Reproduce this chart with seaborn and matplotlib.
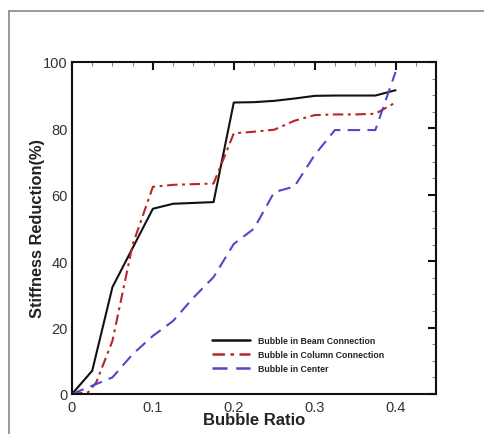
import numpy as np
import pandas as pd
import seaborn as sns
import matplotlib
matplotlib.use("Agg")
import matplotlib.pyplot as plt
from matplotlib.ticker import MultipleLocator
from matplotlib.lines import Line2D

sns.set_theme(style="white")
plt.rcParams['font.family'] = ['Liberation Sans', 'DejaVu Sans']

beam_x = [0.0, 0.025, 0.05, 0.075, 0.1, 0.125, 0.175, 0.2, 0.225, 0.25, 0.275, 0.3, 0.325, 0.35, 0.375, 0.4]
beam_y = [0.0, 7.0, 32.2, 44.0, 55.8, 57.3, 57.8, 87.8, 87.9, 88.3, 89.0, 89.8, 89.9, 89.9, 89.9, 91.5]

col_x = [0.0, 0.02, 0.03, 0.05, 0.075, 0.1, 0.125, 0.175, 0.2, 0.225, 0.25, 0.275, 0.3, 0.325, 0.35, 0.375, 0.4]
col_y = [0.0, 0.5, 3.5, 16.0, 45.0, 62.4, 63.0, 63.4, 78.5, 79.0, 79.6, 82.3, 84.0, 84.2, 84.2, 84.4, 87.8]

ctr_x = [0.0, 0.025, 0.05, 0.075, 0.1, 0.125, 0.15, 0.175, 0.2, 0.225, 0.25, 0.275, 0.3, 0.325, 0.375, 0.4]
ctr_y = [0.0, 2.5, 5.0, 12.0, 17.5, 22.0, 29.0, 35.2, 45.2, 49.8, 60.8, 62.5, 72.0, 79.5, 79.5, 97.0]

labels = ["Bubble in Beam Connection", "Bubble in Column Connection", "Bubble in Center"]
colors = ["#111111", "#b8262a", "#4b4bcc"]
styles = ["-", (0, (5, 2.2, 1.4, 2.2)), (0, (6, 3.5))]

fig = plt.figure(figsize=(4.85, 4.35), dpi=100)
ax = fig.add_axes([72/485, 1 - 395/435, (436-72)/485, (395-63)/435])

series = [(beam_x, beam_y), (col_x, col_y), (ctr_x, ctr_y)]
handles = []
for (xs, ys), lab, c, ls in zip(series, labels, colors, styles):
    df = pd.DataFrame({"x": xs, "y": ys})
    sns.lineplot(data=df, x="x", y="y", ax=ax, color=c, linewidth=1.5,
                 linestyle=ls, estimator=None, sort=False, legend=False)
    handles.append(Line2D([0], [0], color=c, lw=1.8, linestyle=ls))

ax.set_xlim(0, 0.45)
ax.set_ylim(0, 100)
ax.xaxis.set_major_locator(MultipleLocator(0.1))
ax.xaxis.set_minor_locator(MultipleLocator(0.025))
ax.yaxis.set_major_locator(MultipleLocator(20))
ax.yaxis.set_minor_locator(MultipleLocator(5))
ax.set_xticks([0, 0.1, 0.2, 0.3, 0.4])
ax.set_xticklabels(["0", "0.1", "0.2", "0.3", "0.4"])
ax.tick_params(which="major", direction="in", length=6, width=1.5, top=True, right=True,
               labelsize=10.5, colors="#111111", labelcolor="#333333", pad=3)
ax.tick_params(which="minor", direction="in", length=3, width=0.8, top=True, right=True,
               colors="#888888")
ax.tick_params(axis="x", which="major", pad=4)
for s in ax.spines.values():
    s.set_linewidth(1.5)
    s.set_color("#111111")

ax.set_xlabel("Bubble Ratio", fontsize=12, fontweight="bold", color="#222222", labelpad=-1)
ax.set_ylabel("Stiffness Reduction(%)", fontsize=11.8, fontweight="bold", color="#222222", labelpad=-1)

leg = ax.legend(handles, labels, loc="lower right", bbox_to_anchor=(0.88, 0.04),
                frameon=False, prop={"size": 6.3, "weight": "bold"}, handlelength=4.4,
                handletextpad=0.9, labelspacing=0.55, labelcolor="#222222")

fig.add_artist(Line2D([9/485, 9/485], [0, 1 - 12/435], transform=fig.transFigure,
                      color="#888888", lw=1.2))
fig.add_artist(Line2D([9/485, 1], [1 - 12/435, 1 - 12/435], transform=fig.transFigure,
                      color="#888888", lw=1.2))

fig.savefig("out.png", dpi=100)
